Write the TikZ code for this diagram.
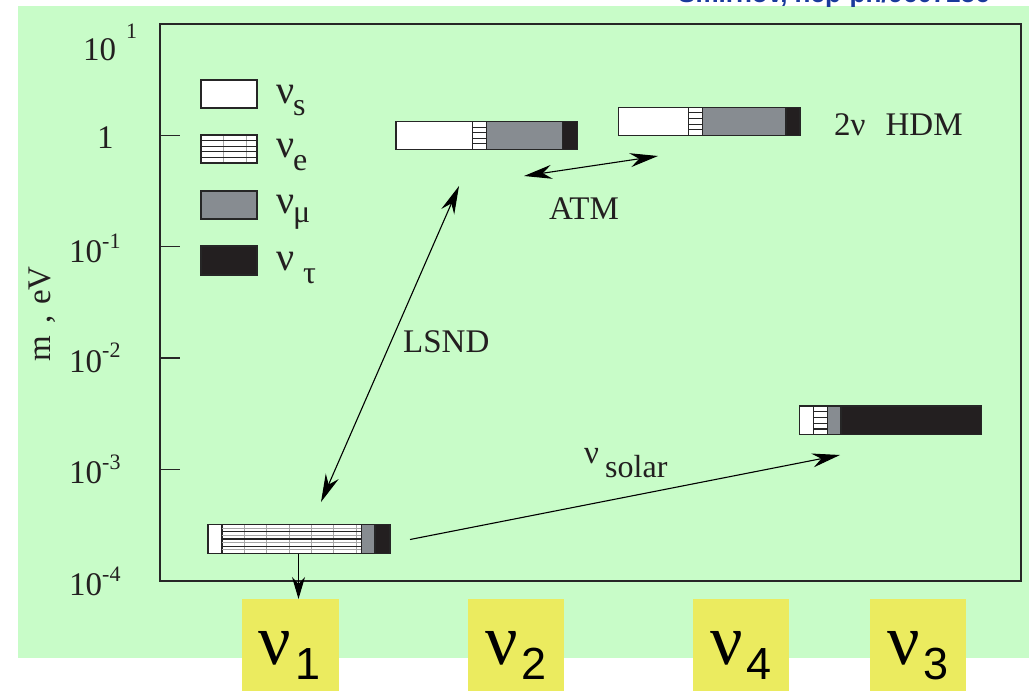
\documentclass[tikz,border=0pt]{standalone}
\usepackage{fontspec}
\setmainfont{Liberation Serif}
\newfontfamily\sansf{Liberation Sans}
\usetikzlibrary{arrows.meta}
\definecolor{bggreen}{HTML}{C8FCC8}
\definecolor{muGray}{HTML}{878C91}
\definecolor{tauBlack}{HTML}{231F20}
\definecolor{boxYellow}{HTML}{EBEB5F}
\definecolor{refBlue}{HTML}{1A3A9C}
\definecolor{lineDark}{HTML}{262626}
\newcommand\fs[1]{\fontsize{#1}{#1}\selectfont}
% bar: x0 x1 x2 x3 x4 ytop ybot
\newcommand\nubarfill[7]{%
  \fill[white] (#1,#6) rectangle (#2,#7);
  \fill[white] (#2,#6) rectangle (#3,#7);
  \fill[muGray] (#3,#6) rectangle (#4,#7);
  \fill[tauBlack] (#4,#6) rectangle (#5,#7);
  \draw[barline] (#2,#6) -- (#2,#7) (#3,#6) -- (#3,#7) (#4,#6) -- (#4,#7);
}
\newcommand\nuhatch[5]{% x1 x2 ytop ybot n
  \foreach \k in {1,...,#5}{\draw[hatchline] (#1,{#3+\k*(#4-#3)/(#5+1)}) -- (#2,{#3+\k*(#4-#3)/(#5+1)});}
}
\begin{document}
\begin{tikzpicture}[x=1pt,y=-1pt,
  barline/.style={draw=lineDark,line width=1.2pt},
  hatchline/.style={draw=lineDark,line width=1.1pt},
  thinhatch/.style={draw=gray!70,line width=0.5pt},
  frameline/.style={draw=lineDark,line width=1.2pt},
  tick/.style={draw=lineDark,line width=1.2pt},
  txt/.style={inner sep=0pt,anchor=base west,text=tauBlack,font=\fs{33}},
  supt/.style={inner sep=0pt,anchor=base west,text=tauBlack,font=\fs{22}},
  legnu/.style={inner sep=0pt,anchor=base west,text=tauBlack,font=\fs{40}},
  legsub/.style={inner sep=0pt,anchor=base west,text=tauBlack,font=\fs{32}},
  tip/.tip={Stealth[length=28pt,width=14pt,inset=9pt]},
  arr/.style={draw=black,line width=1.1pt,-tip},
  dblarr/.style={draw=black,line width=1.1pt,tip-tip},
  ybox/.style={fill=boxYellow,draw=none,minimum width=96.5pt,minimum height=92pt,inner sep=0pt,anchor=north west},
  bignu/.style={inner sep=0pt,anchor=base west,text=black,font=\fs{72}},
  bigdig/.style={inner sep=0pt,anchor=base west,text=black,font=\sansf\fs{45}},
  barnode/.style={inner sep=0pt,draw=none,anchor=north west}
]
\useasboundingbox (0,0) rectangle (1029,691);
% background
\fill[bggreen] (18,6) rectangle (1029,658);
% clipped reference text at the top
\begin{scope}
\clip (0,0) rectangle (1029,6);
\node[inner sep=0pt,anchor=base west,text=refBlue,font=\sansf\bfseries\fs{26}] (reftxt) at (678,2) {Smirnov, hep-ph/9607256};
\end{scope}
% frame and ticks
\draw[frameline] (160,24) rectangle (1021,581);
\foreach \yy in {135.3,246.7,358,469.3}{\draw[tick] (160,\yy) -- (180,\yy);}
% tick labels
\node[txt] (l1a) at (83,60) {10};
\node[supt] (l1b) at (126,38) {1};
\node[txt] (l0) at (97,148) {1};
\node[txt] (lm1a) at (69,262) {10};
\node[supt] (lm1b) at (102,248) {-1};
\node[txt] (lm2a) at (69,372) {10};
\node[supt] (lm2b) at (102,357) {-2};
\node[txt] (lm3a) at (69,483) {10};
\node[supt] (lm3b) at (102,469) {-3};
\node[txt] (lm4a) at (69,595) {10};
\node[supt] (lm4b) at (102,581) {-4};
% axis label
\node[inner sep=0pt,anchor=base,rotate=90,text=tauBlack,font=\fs{33}] (ylab) at (50,314) {m\hspace{13pt},\hspace{10pt}eV};
% legend
\fill[white] (201,80) rectangle (257,108);
\draw[barline] (201,80) rectangle (257,108);
\fill[white] (201,135) rectangle (257,163);
\draw[thinhatch] (223,135) -- (223,163) (246,135) -- (246,163);
\nuhatch{201}{257}{135}{163}{4}
\draw[barline] (201,135) rectangle (257,163);
\fill[muGray] (201,191) rectangle (257,219);
\draw[barline] (201,191) rectangle (257,219);
\fill[tauBlack] (201,246) rectangle (257,275);
\draw[barline] (201,246) rectangle (257,275);
\node[legnu] (ls1) at (276,103) {ν};
\node[legsub] (ls2) at (293,115) {s};
\node[legnu] (le1) at (276,157) {ν};
\node[legsub] (le2) at (293,170) {e};
\node[legnu] (lm1) at (276,213) {ν};
\node[legsub] (lm2) at (293,222) {μ};
\node[legnu] (lt1) at (276,270) {ν};
\node[legsub] (lt2) at (303,283) {τ};
% bar nu2
\node[barnode,minimum width=181.7pt,minimum height=27.6pt] (bar2) at (396,121.7) {};
\nubarfill{396}{472.7}{486.7}{562.7}{577.7}{121.7}{149.3}
\nuhatch{472.7}{486.7}{121.7}{149.3}{4}
\draw[barline] (396,121.7) rectangle (577.7,149.3);
% bar nu4
\node[barnode,minimum width=181.3pt,minimum height=28pt] (bar4) at (618.7,107.3) {};
\nubarfill{618.7}{688.3}{702.7}{786}{800}{107.3}{135.3}
\nuhatch{688.3}{702.7}{107.3}{135.3}{4}
\draw[barline] (618.7,107.3) rectangle (800,135.3);
% bar nu3
\node[barnode,minimum width=182pt,minimum height=28.7pt] (bar3) at (799.3,406) {};
\nubarfill{799.3}{813.3}{827.7}{841}{981.3}{406}{434.7}
\nuhatch{813.3}{827.7}{406}{434.7}{4}
\draw[barline] (799.3,406) rectangle (981.3,434.7);
% bar nu1
\node[barnode,minimum width=182pt,minimum height=28.6pt] (bar1) at (208,524.7) {};
\nubarfill{208}{222}{361.3}{375}{390}{524.7}{553.3}
\foreach \xx in {244,266.7,289,311.7,333,356}{\draw[thinhatch] (\xx,524.7) -- (\xx,553.3);}
\foreach \k in {1,3,5,7}{\draw[thinhatch] (222,{524.7+\k*28.6/8}) -- (361.3,{524.7+\k*28.6/8});}
\foreach \k in {2,4,6}{\draw[hatchline] (222,{524.7+\k*28.6/8}) -- (361.3,{524.7+\k*28.6/8});}
\draw[barline] (208,524.7) rectangle (390,553.3);
% labels
\node[txt] (lsnd) at (403,352) {LSND};
\node[txt] (atm) at (549,219) {ATM};
\node[txt] (hdm) at (834,135) {2ν\hspace{20pt}HDM};
\node[txt] (solnu) at (584,463) {ν};
\node[inner sep=0pt,anchor=base west,text=tauBlack,font=\fs{32}] (solsub) at (605,477) {solar};
% yellow boxes
\node[ybox] (y1) at (242,599) {};
\node[ybox] (y2) at (467.5,599) {};
\node[ybox] (y4) at (692.5,599) {};
\node[ybox] (y3) at (869.5,599) {};
\node[bignu] (n1a) at (258,664) {ν};
\node[bigdig] (n1b) at (295,679) {1};
\node[bignu] (n2a) at (485.5,664) {ν};
\node[bigdig] (n2b) at (521,679) {2};
\node[bignu] (n4a) at (710.5,664) {ν};
\node[bigdig] (n4b) at (746,679) {4};
\node[bignu] (n3a) at (887.5,664) {ν};
\node[bigdig] (n3b) at (923,679) {3};
% connectors
\coordinate (lsndTop) at (459,186);
\coordinate (lsndBot) at (321,502);
\coordinate (atmL) at (524,176);
\coordinate (atmR) at (658,156);
\coordinate (solS) at (410,539.5);
\coordinate (solE) at (840,455);
\draw[dblarr] (lsndBot) -- (lsndTop);
\draw[dblarr] (atmL) -- (atmR);
\draw[arr] (solS) -- (solE);
\draw[draw=black,line width=1.1pt,-{Stealth[length=22pt,width=13pt,inset=7pt]}] (bar1.south -| 298.5,0) -- (y1.north -| 298.5,0);
\end{tikzpicture}
\end{document}
